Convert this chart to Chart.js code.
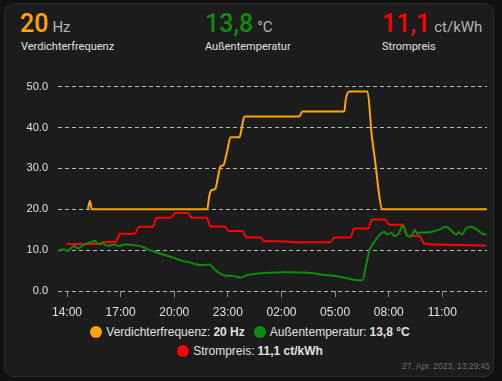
<!DOCTYPE html>
<html><head><meta charset="utf-8">
<script src="https://cdn.jsdelivr.net/npm/chart.js@4/dist/chart.umd.min.js"></script>
<style>
html,body{margin:0;padding:0;background:#111111;width:502px;height:381px;overflow:hidden}
#card{position:absolute;left:4px;top:3px;width:490px;height:374px;background:#1c1c1c;border:1px solid #2c2c2c;border-radius:10px;box-sizing:border-box}
.hd{position:absolute;top:11px;font-family:Roboto,"Noto Sans",sans-serif;white-space:nowrap;line-height:25px}
.num{font-size:25px;font-weight:500}
.unit{font-size:15px;color:#b4b4b4;margin-left:4px}
.lab{position:absolute;top:41px;font-family:Roboto,"Noto Sans",sans-serif;font-size:11px;line-height:11px;color:#e1e1e1;white-space:nowrap}
#c{position:absolute;left:0;top:70px}
.lg{position:absolute;left:0;width:500px;height:14px;display:flex;justify-content:center;align-items:center;font-family:Arial,"Liberation Sans",sans-serif;font-size:12px;color:#e1e1e1;white-space:nowrap}
.dot{display:inline-block;width:12px;height:12px;border-radius:50%;margin-right:4px}
.lg b{margin-left:3px}
#ts{position:absolute;right:12px;top:361px;font-family:Arial,"Liberation Sans",sans-serif;font-size:8.5px;color:#6e6e6e;white-space:nowrap}
</style></head>
<body>
<div id="card"></div>
<div class="hd" style="left:20px"><span class="num" id="n1" style="color:#ffa500"></span><span class="unit">Hz</span></div>
<div class="lab" style="left:21px">Verdichterfrequenz</div>
<div class="hd" style="left:205px"><span class="num" id="n2" style="color:#0e8c0e"></span><span class="unit">°C</span></div>
<div class="lab" style="left:205px">Außentemperatur</div>
<div class="hd" style="left:382px"><span class="num" id="n3" style="color:#ff0000"></span><span class="unit">ct/kWh</span></div>
<div class="lab" style="left:382px">Strompreis</div>
<canvas id="c" width="502" height="250"></canvas>
<div class="lg" style="top:325px"><span class="dot" style="background:#ffa500"></span>Verdichterfrequenz:<b id="l1"></b><span class="dot" style="background:#0e8c0e;margin-left:9px"></span>Außentemperatur:<b id="l2"></b></div>
<div class="lg" style="top:344px"><span class="dot" style="background:#ff0000"></span>Strompreis:<b id="l3"></b></div>
<div id="ts">27. Apr. 2023, 13:29:45</div>
<script>
// hours since 26 Apr 2023 00:00
const xMin = 13.496, xMax = 37.496;
const tickHours = [14, 17, 20, 23, 26, 29, 32, 35];
const tickLabels = ['14:00', '17:00', '20:00', '23:00', '02:00', '05:00', '08:00', '11:00'];

const freqTimes = [15.17, 15.28, 15.39, 21.85, 21.95, 22.07, 22.3, 22.45, 22.59, 22.75, 22.95, 23.15, 23.65, 23.8, 23.93, 27.0, 27.17, 29.51, 29.6, 29.79, 30.81, 31.05, 31.2, 31.65, 37.49];
const freqValues = [20, 22, 20, 20, 23, 24.6, 25, 28, 30.5, 30.8, 34, 37.6, 37.6, 40.5, 42.7, 42.7, 43.9, 43.9, 47, 48.8, 48.8, 38, 33, 20, 20];

const tempTimes = [13.50, 13.78, 14.05, 14.28, 14.44, 14.61, 14.89, 15.11, 15.39, 15.56, 15.73, 16.01, 16.29, 16.62, 16.9, 17.23, 17.57, 17.96, 18.3, 18.52, 18.91, 19.47, 19.91, 20.47, 20.86, 21.25, 21.59, 21.98, 22.2, 22.48, 22.81, 23.26, 23.71, 24.1, 24.55, 25.16, 26.16, 27.33, 28.33, 29.12, 29.62, 30.24, 30.52, 30.74, 30.91, 31.19, 31.52, 31.74, 31.91, 32.13, 32.36, 32.58, 32.78, 33.03, 33.25, 33.45, 33.59, 33.81, 34.2, 34.53, 34.92, 35.2, 35.54, 35.76, 35.93, 36.1, 36.32, 36.6, 36.93, 37.21, 37.46];
const tempValues = [9.8, 10.2, 9.8, 10.7, 11.0, 10.4, 11.2, 11.6, 12.0, 12.3, 11.5, 11.6, 11.0, 11.4, 11.0, 11.4, 11.3, 11.1, 10.7, 10.2, 9.6, 8.8, 8.2, 7.3, 7.0, 6.5, 6.3, 6.5, 5.5, 4.5, 3.8, 3.7, 3.3, 3.9, 4.2, 4.4, 4.6, 4.5, 4.0, 3.6, 3.2, 2.6, 2.6, 6.5, 9.8, 12.0, 13.9, 14.5, 13.9, 14.2, 13.4, 14.3, 16.0, 13.6, 13.3, 15.0, 14.0, 14.3, 14.3, 14.6, 15.2, 15.7, 14.6, 13.8, 14.4, 13.8, 15.3, 15.7, 15.0, 14.1, 13.8];

const priceTimes = [13.98, 15.84, 16.01, 16.73, 16.95, 17.79, 18.02, 18.8, 19.02, 19.8, 20.03, 20.75, 20.97, 21.81, 22.03, 22.82, 23.04, 23.82, 24.04, 24.82, 25.05, 25.88, 27.0, 28.73, 28.95, 29.85, 30.07, 30.85, 31.07, 31.8, 32.02, 32.8, 33.03, 33.7, 33.98, 35.09, 37.44];
const priceValues = [11.5, 11.5, 12.0, 12.0, 14.0, 14.0, 15.7, 15.7, 17.9, 17.9, 19.1, 19.1, 17.9, 17.9, 15.8, 15.8, 14.7, 14.7, 13.1, 13.1, 12.2, 12.2, 11.9, 11.9, 13.1, 13.1, 15.3, 15.3, 17.5, 17.5, 16.2, 16.2, 13.5, 13.5, 11.6, 11.3, 11.1];

const ORANGE = '#ffa500', GREEN = '#0e8c0e', RED = '#ff0000';
const zip = (xs, ys) => xs.map((x, i) => ({x: x, y: ys[i]}));
const fmt = v => String(v).replace('.', ',');
const lastF = freqValues[freqValues.length - 1], lastT = tempValues[tempValues.length - 1], lastP = priceValues[priceValues.length - 1];
document.getElementById('n1').textContent = fmt(lastF);
document.getElementById('n2').textContent = fmt(lastT);
document.getElementById('n3').textContent = fmt(lastP);
document.getElementById('l1').textContent = fmt(lastF) + ' Hz';
document.getElementById('l2').textContent = fmt(lastT) + ' °C';
document.getElementById('l3').textContent = fmt(lastP) + ' ct/kWh';

const lineDs = (label, xs, ys, color) => ({label, data: zip(xs, ys), borderColor: color, backgroundColor: color, borderWidth: 2, pointRadius: 0, cubicInterpolationMode: 'monotone', fill: false});

new Chart(document.getElementById('c'), {
  type: 'line',
  data: {datasets: [
    lineDs('Verdichterfrequenz', freqTimes, freqValues, ORANGE),
    lineDs('Außentemperatur', tempTimes, tempValues, GREEN),
    lineDs('Strompreis', priceTimes, priceValues, RED)
  ]},
  options: {
    responsive: false, animation: false,
    layout: {padding: {left: 0, right: 15, top: 16, bottom: 0}},
    plugins: {legend: {display: false}, tooltip: {enabled: false}},
    scales: {
      x: {
        type: 'linear', min: xMin, max: xMax,
        afterBuildTicks: s => { s.ticks = tickHours.map(v => ({value: v})); },
        afterFit: s => { s.height = 29; },
        ticks: {
          autoSkip: false, maxRotation: 0, padding: 8, color: '#e1e1e1',
          font: {family: 'Arial, "Liberation Sans", sans-serif', size: 12},
          callback: v => tickLabels[tickHours.indexOf(v)]
        },
        grid: {drawOnChartArea: false, drawTicks: true, tickLength: 6, color: '#8c8c8c'},
        border: {display: false}
      },
      y: {
        min: 0, max: 50,
        afterFit: s => { s.width = 58; },
        ticks: {
          stepSize: 10, padding: 10, color: '#e1e1e1',
          font: {family: 'Arial, "Liberation Sans", sans-serif', size: 11},
          callback: v => v.toFixed(1)
        },
        grid: {color: '#b8b8b8', drawTicks: false, lineWidth: 1},
        border: {display: false, dash: [4, 3]}
      }
    }
  }
});
</script>
</body></html>
